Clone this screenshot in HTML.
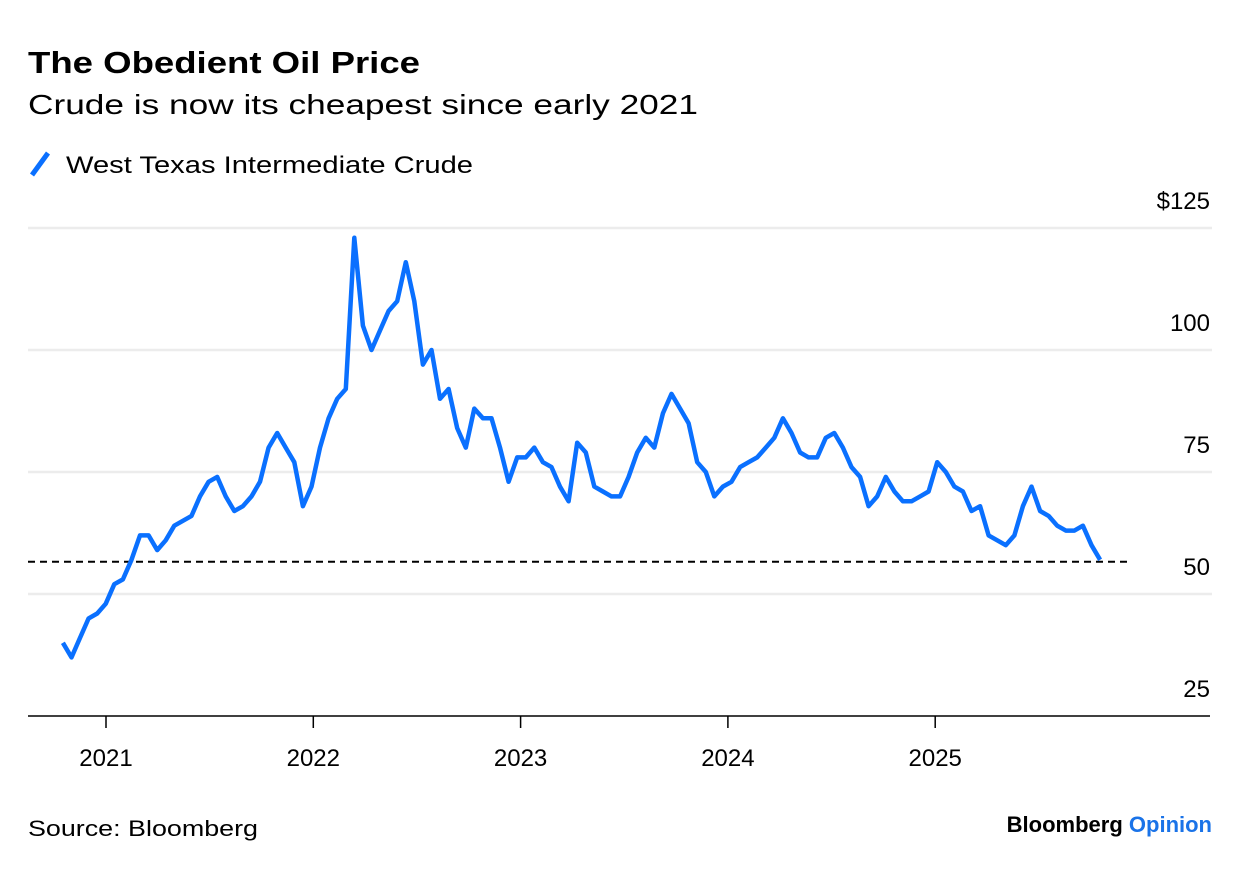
<!DOCTYPE html>
<html><head><meta charset="utf-8">
<style>
body{margin:0;background:#fff;font-family:"Liberation Sans",sans-serif;}
svg text{font-family:"Liberation Sans",sans-serif;}
</style></head>
<body>
<svg width="1240" height="868" xmlns="http://www.w3.org/2000/svg">
<text x="28" y="73" font-size="31" font-weight="bold" fill="#000" textLength="392" lengthAdjust="spacingAndGlyphs">The Obedient Oil Price</text>
<text x="28" y="114" font-size="28" fill="#000" textLength="670" lengthAdjust="spacingAndGlyphs">Crude is now its cheapest since early 2021</text>
<line x1="32" y1="175" x2="48" y2="153" stroke="#0a70ff" stroke-width="5"/>
<text x="66" y="173" font-size="24" fill="#000" textLength="407" lengthAdjust="spacingAndGlyphs">West Texas Intermediate Crude</text>
<g id="grid"></g>
<g id="plot"></g>
<text x="28" y="836" font-size="22" fill="#000" textLength="230" lengthAdjust="spacingAndGlyphs">Source: Bloomberg</text>
<text x="1212" y="832" font-size="22" font-weight="bold" text-anchor="end"><tspan fill="#000">Bloomberg </tspan><tspan fill="#1a73e8">Opinion</tspan></text>
</svg>
<script>
const prices=[40,37,41,45,46,48,
52,53,57,62,62,59,61,64,65,66,70,73,74,70,67,68,70,73,80,83,80,77,68,72,
80,86,90,92,123,105,100,104,108,110,118,110,97,100,90,92,84,80,88,86,86,80,73,78,
78,80,77,76,72,69,81,79,72,71,70,70,74,79,82,80,87,91,88,85,77,75,70,72,
73,76,77,78,80,82,86,83,79,78,78,82,83,80,76,74,68,70,74,71,69,69,70,71,
77,75,72,71,67,68,62,61,60,62,68,72,67,66,64,63,63,64,60,57];
const startYear=2020.792, step=0.04135;
const yTicks=[25,50,75,100,125];
const yTickLabels=["25","50","75","100","$125"];
const xTicks=[2021,2022,2023,2024,2025];
const refLevel=56.6;
const NS="http://www.w3.org/2000/svg";
const xS=t=>106+207.3*(t-2021);
const yS=v=>716-(v-25)*4.88;
const grid=document.getElementById('grid'), plot=document.getElementById('plot');
function mk(tag,attrs,parent){const e=document.createElementNS(NS,tag);for(const k in attrs)e.setAttribute(k,attrs[k]);parent.appendChild(e);return e;}
yTicks.forEach((v,i)=>{
  if(v!==25){const l=mk('line',{x1:28,x2:1212,y1:yS(v),y2:yS(v),stroke:'#ececec','stroke-width':2.5},grid);
  
  }
  const t=mk('text',{x:1210,y:yS(v)-19,'font-size':24,'text-anchor':'end',fill:'#000'},grid);
  t.textContent=yTickLabels[i];
  
  
});
const ax=mk('line',{x1:28,x2:1210,y1:716,y2:716,stroke:'#000','stroke-width':1.5},grid);


xTicks.forEach(y=>{
  const tk=mk('line',{x1:xS(y),x2:xS(y),y1:716,y2:728,stroke:'#000','stroke-width':1.5},grid);
  
  
  const t=mk('text',{x:xS(y),y:766,'font-size':24,'text-anchor':'middle',fill:'#000'},grid);
  t.textContent=y;
  
  
});
const ref=mk('line',{x1:28,x2:1132,y1:yS(refLevel),y2:yS(refLevel),stroke:'#000','stroke-width':2,'stroke-dasharray':'7,5'},plot);


const d=prices.map((v,i)=>(i?'L':'M')+xS(startYear+i*step).toFixed(1)+','+yS(v).toFixed(1)).join('');
const p=mk('path',{d:d,fill:'none',stroke:'#0a70ff','stroke-width':4.5,'stroke-linejoin':'round'},plot);


</script>
</body></html>
